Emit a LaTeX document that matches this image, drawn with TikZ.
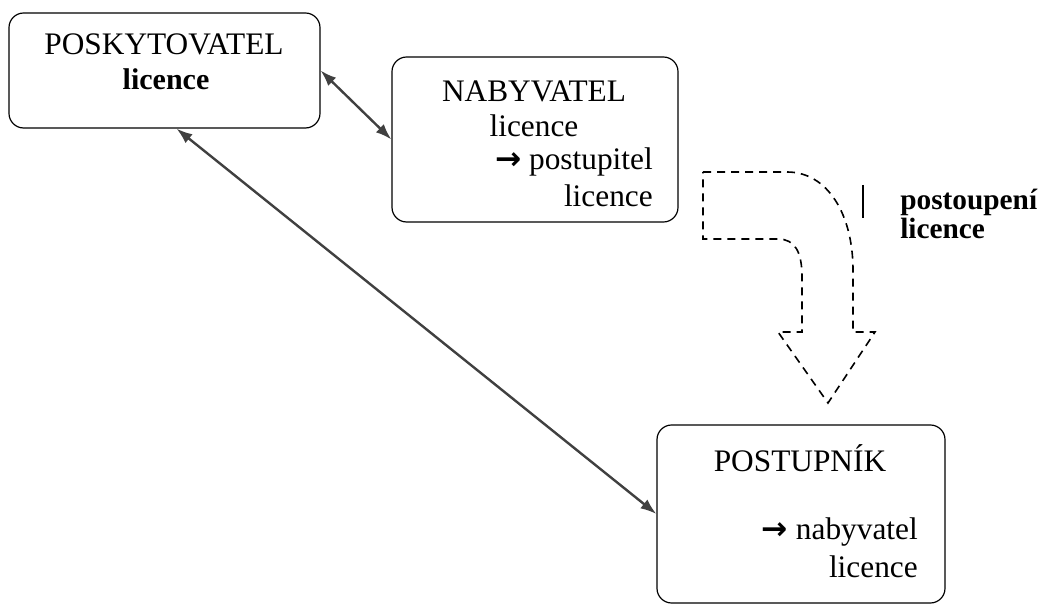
\documentclass[tikz,border=0pt]{standalone}
\usepackage{fontspec}
\setmainfont{Liberation Serif}
\newfontfamily\arrowfont{DejaVu Sans}
\usetikzlibrary{arrows.meta, positioning}

\newcommand{\toarrow}{{\arrowfont\bfseries →}}

\begin{document}
\begin{tikzpicture}[x=0.75pt, y=-0.75pt, >={Latex[length=12pt, width=8.5pt]},
    box/.style={draw, line width=0.9pt, rounded corners=11pt, inner sep=0pt},
    txt/.style={inner sep=0pt, font=\fontsize{23.5}{28}\selectfont},
    link/.style={<->, line width=1.8pt, draw=black!75}]
    \useasboundingbox (0,0) rectangle (1046,605);

    % Boxes
    \node[box, minimum width=233.25pt, minimum height=86.25pt] (posk) at (164.5,70.5) {};
    \node[box, minimum width=214.5pt, minimum height=123.75pt] (nab) at (535,139.5) {};
    \node[box, minimum width=216pt, minimum height=133.5pt] (postup) at (801,514) {};

    % Texts in the boxes
    \node[txt, anchor=base] (poskname) at (164,55) {POSKYTOVATEL};
    \node[txt, anchor=base, font=\fontsize{22.5}{28}\selectfont\bfseries] (posklic) at (166,90) {licence};

    \node[txt, anchor=base] (nabname) at (534,102) {NABYVATEL};
    \node[txt, anchor=base] (nablic) at (534,137) {licence};
    \node[txt, anchor=base east] (nabto) at (653,170) {\toarrow\ postupitel};
    \node[txt, anchor=base east] (nabtolic) at (653,207) {licence};

    \node[txt, anchor=base] (postupname) at (800,472) {POSTUPNÍK};
    \node[txt, anchor=base east] (postupto) at (918,540) {\toarrow\ nabyvatel};
    \node[txt, anchor=base east] (postuptolic) at (918,577) {licence};

    % Arrows between the parties
    \draw[link] (posk.east) -- (nab.west);
    \draw[link] ([xshift=9pt]posk.south) -- (postup.west);

    % Dashed bent arrow
    \draw[line width=1.2pt, dash pattern=on 6pt off 4.5pt]
        (703,172) -- (787,172) .. controls (828,172) and (853,215) .. (853,270)
        -- (853,332) -- (875,332) -- (828,403) -- (778,332) -- (802,332)
        -- (802,277) .. controls (802,252) and (795,239) .. (778,239)
        -- (703,239) -- cycle;

    % Label of the dashed arrow
    \draw[line width=0.8pt] (863,185) -- (863,218);
    \node[txt, anchor=base west, font=\fontsize{22}{26}\selectfont\bfseries] (postlbl) at (900,210) {postoupení};
    \node[txt, anchor=base west, font=\fontsize{22}{26}\selectfont\bfseries] (postlbllic) at (900,239) {licence};
\end{tikzpicture}
\end{document}
